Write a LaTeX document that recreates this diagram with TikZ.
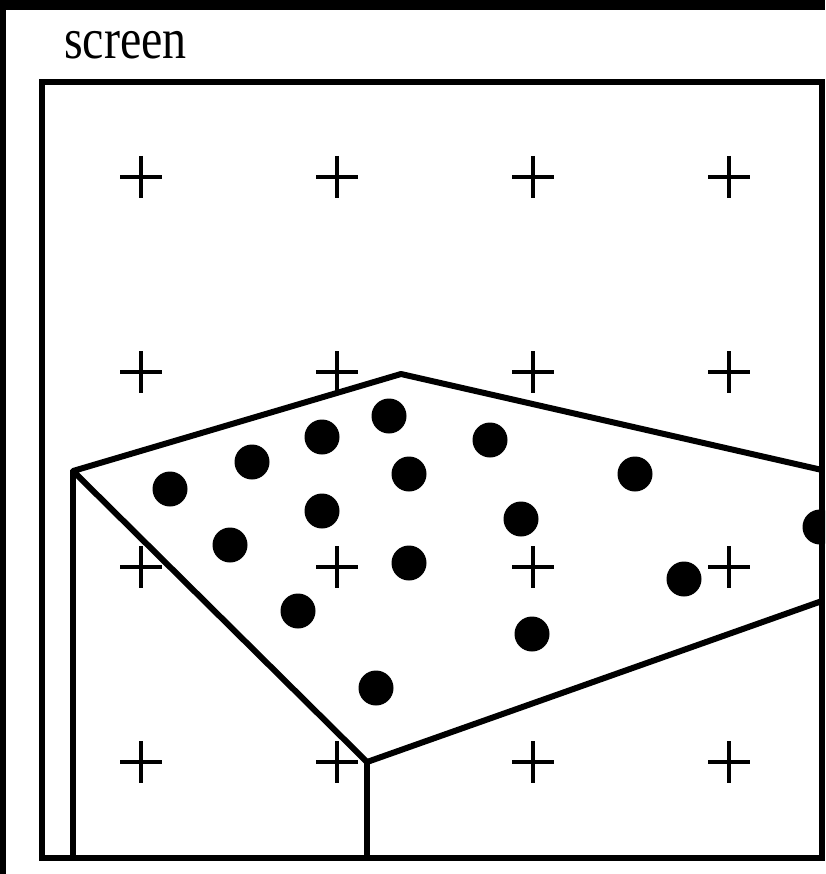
\documentclass[tikz,border=0pt]{standalone}
\usepackage{fontspec}
\setmainfont{Liberation Serif}
\begin{document}
\begin{tikzpicture}[x=1pt,y=-1pt,
  frameline/.style={line width=6pt},
  edgeline/.style={line width=6pt, line join=round},
  crossmark/.style={line width=3.6pt},
  dotmark/.style={fill=black}]
\useasboundingbox (0,0) rectangle (825,874);
\fill[white] (0,0) rectangle (825,874);
% scan borders
\fill[black] (0,0) rectangle (825,10);
\fill[black] (0,0) rectangle (6,874);
\begin{scope}
\clip (0,0) rectangle (825,874);
% label
\node[anchor=base west, inner sep=0pt, font=\fontsize{48}{52}\selectfont] (lbl) at (64,59) {\scalebox{1}[1.2]{screen}};
% grid of crosses
\foreach \cx in {141,337,533,729}{
  \foreach \cy in {177,372,567,762}{
    \draw[crossmark] (\cx-21,\cy) -- (\cx+21,\cy) (\cx,\cy-21) -- (\cx,\cy+21);
  }
}
% polygon vertices
\coordinate (A) at (73,471);
\coordinate (B) at (401,374);
\coordinate (C) at (822,470);
\coordinate (E) at (367,762);
\coordinate (D) at (822,601);
\coordinate (Abot) at (73,858);
\coordinate (Ebot) at (367,858);
\draw[edgeline] (C) -- (B) -- (A) -- (E) -- (D);
\draw[edgeline] (A) -- (Abot);
\draw[edgeline] (E) -- (Ebot);
% dots
\foreach \px/\py in {170/489,252/462,322/437,389/416,490/440,409/474,635/474,322/511,521/519,230/545,409/563,684/579,820/527,298/611,532/634,376/688}{
  \fill[dotmark] (\px,\py) circle (17.5);
}
% screen frame
\draw[frameline] (42,82) rectangle (822,858);
\end{scope}
\end{tikzpicture}
\end{document}
